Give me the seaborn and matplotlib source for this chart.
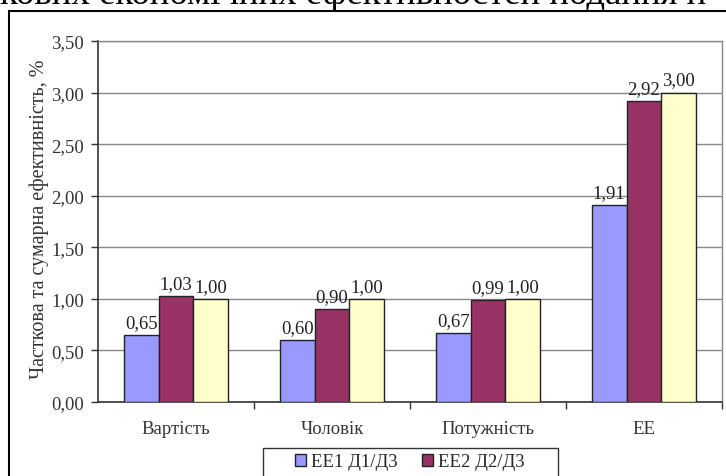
import numpy as np
import pandas as pd
import matplotlib as mpl
mpl.use("Agg")
import matplotlib.pyplot as plt
from matplotlib.patches import Rectangle, Patch
import seaborn as sns

# Data
categories = ["Вартість", "Чоловік", "Потужність", "ЕЕ"]
series_names = ["ЕЕ1 Д1/Д3", "ЕЕ2 Д2/Д3", "ЕЕ3 Д3/Д3"]
ee1 = [0.65, 0.60, 0.67, 1.91]
ee2 = [1.03, 0.90, 0.99, 2.92]
ee3 = [1.00, 1.00, 1.00, 3.00]
y_ticks = [0.0, 0.5, 1.0, 1.5, 2.0, 2.5, 3.0, 3.5]
colors = ["#9999FF", "#993366", "#FFFFCC"]


def fmt(v):
    return f"{v:.2f}".replace(".", ",")


def main():
    df = pd.DataFrame({
        "cat": categories * 3,
        "series": [series_names[0]] * 4 + [series_names[1]] * 4 + [series_names[2]] * 4,
        "value": ee1 + ee2 + ee3,
    })

    sns.set_style("white")
    plt.rcParams["font.family"] = ["Liberation Serif", "DejaVu Serif"]

    fig = plt.figure(figsize=(7.26, 4.77), dpi=100)
    ax = fig.add_axes([98 / 726, 1 - 403 / 477, 624 / 726, 361 / 477])

    sns.barplot(data=df, x="cat", y="value", hue="series", palette=colors,
                width=0.67, gap=0, edgecolor="#222222", linewidth=1.0,
                saturation=1, legend=False, ax=ax, zorder=3)

    # value labels
    for cont in ax.containers:
        ax.bar_label(cont, labels=[fmt(b.get_height()) for b in cont],
                     padding=3, fontsize=13.5, color="#222222")

    # axes
    ax.set_ylim(0, 3.5)
    ax.set_xlim(-0.5, 3.5)
    ax.set_yticks(y_ticks)
    ax.set_yticklabels([fmt(v) for v in y_ticks], fontsize=13.5, color="#333333")
    ax.yaxis.grid(True, color="#888888", linewidth=1.0, zorder=0)
    ax.set_axisbelow(True)
    ax.tick_params(axis="y", left=True, length=5, width=1, color="#333333", pad=5)
    ax.tick_params(axis="x", which="major", length=0, labelsize=13.5, pad=13,
                   labelcolor="#333333")
    ax.set_xticks([0.5, 1.5, 2.5, 3.5], minor=True)
    ax.tick_params(axis="x", which="minor", bottom=True, length=5, width=1,
                   color="#333333")
    ax.set_xlabel("")
    ax.set_ylabel("Часткова та сумарна ефективність, %", fontsize=14.5,
                  color="#333333")
    ax.yaxis.set_label_coords(-0.079, 0.51)

    for side in ["top", "right"]:
        ax.spines[side].set_color("#888888")
        ax.spines[side].set_linewidth(1.0)
    for side in ["left", "bottom"]:
        ax.spines[side].set_color("#333333")
        ax.spines[side].set_linewidth(1.2)

    # legend (only two entries visible)
    handles = [Patch(facecolor=colors[i], edgecolor="#222222", linewidth=1.0,
                     label=series_names[i]) for i in range(2)]
    fig.legend(handles=handles, loc="center", ncol=2,
               bbox_to_anchor=(410 / 726, 1 - 463 / 477),
               fontsize=13.5, frameon=False,
               handlelength=0.55, handleheight=0.55, handletextpad=0.3,
               columnspacing=1.3, borderpad=0.2)
    fig.patches.append(Rectangle((263 / 726, -0.02), 295 / 726,
                                 (477 - 449) / 477 + 0.02,
                                 transform=fig.transFigure, fill=False,
                                 edgecolor="#333333", linewidth=1.0))

    # outer chart frame
    fig.patches.append(Rectangle((9 / 726, -0.05), 1.1, 1 - 12 / 477 + 0.05,
                                 transform=fig.transFigure, fill=False,
                                 edgecolor="black", linewidth=1.5))

    # cut-off heading text at the top
    fig.text(0.0, 1 - 4 / 477, "ковиx економічних ефективностей подання н",
             fontsize=26.5, ha="left", va="baseline", color="black")

    plt.savefig("out.png", dpi=100)


if __name__ == "__main__":
    main()
